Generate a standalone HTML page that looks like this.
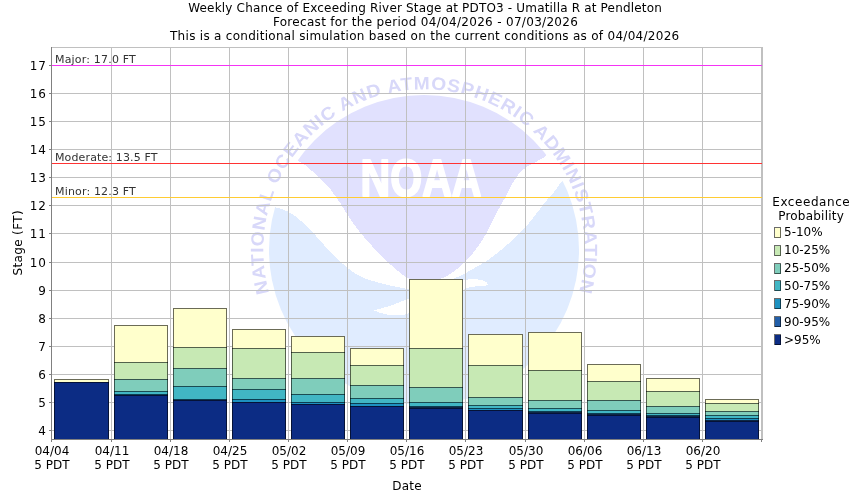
<!DOCTYPE html>
<html><head><meta charset="utf-8"><title>Weekly Chance of Exceeding River Stage</title>
<style>
html,body{margin:0;padding:0;background:#fff;}
body{width:850px;height:500px;overflow:hidden;}
svg{display:block;}
text{font-family:"DejaVu Sans","Liberation Sans",sans-serif;font-size:12px;fill:#000;}
.t11{font-size:11px;fill:#333;}
.ring{font-family:"Liberation Sans",sans-serif;font-weight:bold;font-size:18px;fill:#d8d8f9;}
.noaa{font-family:"Liberation Sans",sans-serif;font-weight:bold;font-size:51.5px;fill:#fff;stroke:#fff;stroke-width:2px;stroke-linejoin:round;}
</style></head><body>
<svg width="850" height="500" viewBox="0 0 850 500">
<rect width="850" height="500" fill="#fff"/>
<g>
<defs><clipPath id="lc"><circle cx="424" cy="250" r="155"/></clipPath>
<path id="ringp" d="M 292.4 342.2 A 160.7 160.7 0 1 1 555.6 342.2"/></defs>
<path shape-rendering="crispEdges" fill="#e1e1fe" clip-path="url(#lc)" d="M 297.8 160.6 L 270 120 L 300 60 L 560 60 L 590 120 L 544.8 156.8 C 543.6 157.5 540.8 159.2 537.6 161.0 C 534.4 162.8 529.0 165.1 525.6 167.6 C 522.2 170.1 519.8 172.6 517.2 176.0 C 514.6 179.4 512.1 184.2 510.0 188.0 C 507.9 191.8 506.7 194.5 504.3 199.0 C 501.9 203.5 498.6 208.9 495.5 214.8 C 492.4 220.7 489.1 228.6 485.6 234.6 C 482.2 240.6 478.1 246.5 474.8 250.8 C 471.5 255.2 469.1 257.6 466.0 260.7 C 462.9 263.8 459.6 267.0 456.5 269.5 C 453.4 272.0 450.3 274.1 447.7 275.6 C 445.1 277.1 443.2 277.8 440.6 278.7 C 438.0 279.6 435.1 280.5 432.0 281.0 C 428.9 281.5 425.2 281.7 422.0 281.5 C 418.8 281.3 415.6 280.7 413.0 280.0 C 410.4 279.3 409.1 278.9 406.5 277.3 C 403.9 275.7 400.6 273.1 397.2 270.4 C 393.8 267.6 389.6 263.7 386.4 260.8 C 383.2 257.9 380.8 255.7 378.0 252.8 C 375.2 249.9 372.6 246.6 369.6 243.2 C 366.6 239.8 363.6 237.0 360.0 232.4 C 356.4 227.8 351.1 220.2 348.0 215.6 C 344.9 211.0 343.3 207.6 341.6 205.0 C 339.9 202.4 340.0 203.0 338.0 200.2 C 336.0 197.4 332.8 192.0 329.6 188.2 C 326.4 184.4 322.8 181.2 318.8 177.4 C 314.8 173.6 309.1 168.2 305.6 165.4 C 302.1 162.6 299.1 161.4 297.8 160.6 Z"/>
<path shape-rendering="crispEdges" fill="#e0ecff" clip-path="url(#lc)" d="M 274.6 207 C 276.9 207.8 283.9 209.4 288.4 211.8 C 292.9 214.2 297.4 217.8 301.6 221.4 C 305.8 225.0 309.8 229.4 313.6 233.4 C 317.4 237.4 321.5 242.2 324.4 245.4 C 327.3 248.6 328.1 249.8 331.0 252.8 C 333.9 255.8 338.2 259.9 342.0 263.2 C 345.8 266.5 350.0 270.2 354.0 272.8 C 358.0 275.4 362.0 277.2 366.0 278.8 C 370.0 280.4 374.0 281.3 378.0 282.4 C 382.0 283.5 385.6 284.4 390.0 285.4 C 394.4 286.4 399.4 287.7 404.4 288.4 C 409.4 289.1 414.1 289.9 420.0 289.5 C 425.9 289.1 434.2 287.9 440.0 286.0 C 445.8 284.1 451.3 279.8 455.0 278.0 C 458.7 276.2 459.2 276.5 462.2 275.0 C 465.2 273.5 469.1 271.0 473.0 268.8 C 476.9 266.6 481.1 264.6 485.6 261.6 C 490.1 258.6 495.2 254.7 500.0 250.8 C 504.8 246.9 509.9 242.4 514.4 238.2 C 518.9 234.0 522.8 230.4 527.0 225.6 C 531.2 220.8 535.9 214.2 539.6 209.4 C 543.4 204.6 547.0 200.0 549.5 197.0 C 552.0 194.0 552.4 194.2 554.4 191.6 C 556.4 189.0 560.4 183.1 561.6 181.4 L 600 170 L 600 420 L 250 420 L 250 200 Z"/>
<path shape-rendering="crispEdges" fill="#fff" d="M 374 310.5 C 376.7 309.7 384.6 307.6 390.0 305.8 C 395.4 304.0 398.6 302.4 406.1 299.7 C 413.6 297.0 425.5 292.7 435.0 289.5 C 444.5 286.3 455.2 281.9 463.0 280.3 C 470.8 278.7 477.7 279.2 482.0 280.0 C 486.3 280.8 487.8 284.4 489.0 285.3 C 487.2 285.5 481.8 285.8 478.0 286.3 C 474.2 286.8 472.3 285.9 466.0 288.5 C 459.7 291.1 449.5 297.9 440.0 302.0 C 430.5 306.1 415.4 310.9 409.0 313.0 C 402.6 315.1 405.5 314.6 401.8 314.9 C 398.1 315.1 391.3 315.2 386.7 314.5 C 382.1 313.8 376.1 311.2 374.0 310.5 Z"/>
<text class="ring" text-anchor="middle" letter-spacing="0.78" textLength="591.4" lengthAdjust="spacingAndGlyphs"><textPath href="#ringp" startOffset="50%">NATIONAL OCEANIC AND ATMOSPHERIC ADMINISTRATION</textPath></text>
<text class="noaa" x="360.5" y="196" textLength="121" lengthAdjust="spacingAndGlyphs">NOAA</text>
</g>
<g shape-rendering="crispEdges" fill="#c0c0c0">
<rect x="111" y="47" width="1" height="392"/><rect x="170" y="47" width="1" height="392"/><rect x="229" y="47" width="1" height="392"/><rect x="288" y="47" width="1" height="392"/><rect x="347" y="47" width="1" height="392"/><rect x="406" y="47" width="1" height="392"/><rect x="465" y="47" width="1" height="392"/><rect x="525" y="47" width="1" height="392"/><rect x="584" y="47" width="1" height="392"/><rect x="643" y="47" width="1" height="392"/><rect x="702" y="47" width="1" height="392"/><rect x="761" y="47" width="1" height="392"/><rect x="52" y="430" width="710" height="1"/><rect x="52" y="402" width="710" height="1"/><rect x="52" y="374" width="710" height="1"/><rect x="52" y="346" width="710" height="1"/><rect x="52" y="318" width="710" height="1"/><rect x="52" y="290" width="710" height="1"/><rect x="52" y="262" width="710" height="1"/><rect x="52" y="233" width="710" height="1"/><rect x="52" y="205" width="710" height="1"/><rect x="52" y="177" width="710" height="1"/><rect x="52" y="149" width="710" height="1"/><rect x="52" y="121" width="710" height="1"/><rect x="52" y="93" width="710" height="1"/><rect x="52" y="65" width="710" height="1"/>
<rect x="51" y="47" width="712" height="1"/><rect x="762" y="47" width="1" height="393"/>
</g>
<g shape-rendering="crispEdges"><rect x="52" y="65" width="710" height="1" fill="#f533f5"/><rect x="52" y="163" width="710" height="1" fill="#ff3333"/><rect x="52" y="197" width="710" height="1" fill="#ffcc33"/></g>
<g shape-rendering="crispEdges">
<rect x="54" y="379" width="55" height="3" fill="#ffffcc"/><rect x="54" y="382" width="55" height="57" fill="#0c2c84"/><rect x="54" y="379" width="55" height="1" fill="#000" fill-opacity="0.58"/><rect x="54" y="382" width="55" height="1" fill="#000" fill-opacity="0.58"/><rect x="54" y="380" width="1" height="59" fill="#000" fill-opacity="0.58"/><rect x="108" y="380" width="1" height="59" fill="#000" fill-opacity="0.58"/>
<rect x="114" y="325" width="54" height="37" fill="#ffffcc"/><rect x="114" y="362" width="54" height="17" fill="#c7e9b4"/><rect x="114" y="379" width="54" height="12" fill="#7fcdbb"/><rect x="114" y="391" width="54" height="3" fill="#41b6c4"/><rect x="114" y="394" width="54" height="1" fill="#1d91c0"/><rect x="114" y="395" width="54" height="44" fill="#0c2c84"/><rect x="114" y="325" width="54" height="1" fill="#000" fill-opacity="0.58"/><rect x="114" y="362" width="54" height="1" fill="#000" fill-opacity="0.58"/><rect x="114" y="379" width="54" height="1" fill="#000" fill-opacity="0.58"/><rect x="114" y="391" width="54" height="1" fill="#000" fill-opacity="0.58"/><rect x="114" y="394" width="54" height="1" fill="#000" fill-opacity="0.58"/><rect x="114" y="395" width="54" height="1" fill="#000" fill-opacity="0.58"/><rect x="114" y="326" width="1" height="113" fill="#000" fill-opacity="0.58"/><rect x="167" y="326" width="1" height="113" fill="#000" fill-opacity="0.58"/>
<rect x="173" y="308" width="54" height="39" fill="#ffffcc"/><rect x="173" y="347" width="54" height="21" fill="#c7e9b4"/><rect x="173" y="368" width="54" height="18" fill="#7fcdbb"/><rect x="173" y="386" width="54" height="13" fill="#41b6c4"/><rect x="173" y="399" width="54" height="1" fill="#1d91c0"/><rect x="173" y="400" width="54" height="39" fill="#0c2c84"/><rect x="173" y="308" width="54" height="1" fill="#000" fill-opacity="0.58"/><rect x="173" y="347" width="54" height="1" fill="#000" fill-opacity="0.58"/><rect x="173" y="368" width="54" height="1" fill="#000" fill-opacity="0.58"/><rect x="173" y="386" width="54" height="1" fill="#000" fill-opacity="0.58"/><rect x="173" y="399" width="54" height="1" fill="#000" fill-opacity="0.58"/><rect x="173" y="400" width="54" height="1" fill="#000" fill-opacity="0.58"/><rect x="173" y="309" width="1" height="130" fill="#000" fill-opacity="0.58"/><rect x="226" y="309" width="1" height="130" fill="#000" fill-opacity="0.58"/>
<rect x="232" y="329" width="54" height="19" fill="#ffffcc"/><rect x="232" y="348" width="54" height="30" fill="#c7e9b4"/><rect x="232" y="378" width="54" height="11" fill="#7fcdbb"/><rect x="232" y="389" width="54" height="10" fill="#41b6c4"/><rect x="232" y="399" width="54" height="3" fill="#1d91c0"/><rect x="232" y="402" width="54" height="37" fill="#0c2c84"/><rect x="232" y="329" width="54" height="1" fill="#000" fill-opacity="0.58"/><rect x="232" y="348" width="54" height="1" fill="#000" fill-opacity="0.58"/><rect x="232" y="378" width="54" height="1" fill="#000" fill-opacity="0.58"/><rect x="232" y="389" width="54" height="1" fill="#000" fill-opacity="0.58"/><rect x="232" y="399" width="54" height="1" fill="#000" fill-opacity="0.58"/><rect x="232" y="402" width="54" height="1" fill="#000" fill-opacity="0.58"/><rect x="232" y="330" width="1" height="109" fill="#000" fill-opacity="0.58"/><rect x="285" y="330" width="1" height="109" fill="#000" fill-opacity="0.58"/>
<rect x="291" y="336" width="54" height="16" fill="#ffffcc"/><rect x="291" y="352" width="54" height="26" fill="#c7e9b4"/><rect x="291" y="378" width="54" height="16" fill="#7fcdbb"/><rect x="291" y="394" width="54" height="8" fill="#41b6c4"/><rect x="291" y="402" width="54" height="2" fill="#1d91c0"/><rect x="291" y="404" width="54" height="35" fill="#0c2c84"/><rect x="291" y="336" width="54" height="1" fill="#000" fill-opacity="0.58"/><rect x="291" y="352" width="54" height="1" fill="#000" fill-opacity="0.58"/><rect x="291" y="378" width="54" height="1" fill="#000" fill-opacity="0.58"/><rect x="291" y="394" width="54" height="1" fill="#000" fill-opacity="0.58"/><rect x="291" y="402" width="54" height="1" fill="#000" fill-opacity="0.58"/><rect x="291" y="404" width="54" height="1" fill="#000" fill-opacity="0.58"/><rect x="291" y="337" width="1" height="102" fill="#000" fill-opacity="0.58"/><rect x="344" y="337" width="1" height="102" fill="#000" fill-opacity="0.58"/>
<rect x="350" y="348" width="54" height="17" fill="#ffffcc"/><rect x="350" y="365" width="54" height="20" fill="#c7e9b4"/><rect x="350" y="385" width="54" height="13" fill="#7fcdbb"/><rect x="350" y="398" width="54" height="5" fill="#41b6c4"/><rect x="350" y="403" width="54" height="3" fill="#1d91c0"/><rect x="350" y="406" width="54" height="33" fill="#0c2c84"/><rect x="350" y="348" width="54" height="1" fill="#000" fill-opacity="0.58"/><rect x="350" y="365" width="54" height="1" fill="#000" fill-opacity="0.58"/><rect x="350" y="385" width="54" height="1" fill="#000" fill-opacity="0.58"/><rect x="350" y="398" width="54" height="1" fill="#000" fill-opacity="0.58"/><rect x="350" y="403" width="54" height="1" fill="#000" fill-opacity="0.58"/><rect x="350" y="406" width="54" height="1" fill="#000" fill-opacity="0.58"/><rect x="350" y="349" width="1" height="90" fill="#000" fill-opacity="0.58"/><rect x="403" y="349" width="1" height="90" fill="#000" fill-opacity="0.58"/>
<rect x="409" y="279" width="54" height="69" fill="#ffffcc"/><rect x="409" y="348" width="54" height="39" fill="#c7e9b4"/><rect x="409" y="387" width="54" height="15" fill="#7fcdbb"/><rect x="409" y="402" width="54" height="4" fill="#41b6c4"/><rect x="409" y="406" width="54" height="1" fill="#1d91c0"/><rect x="409" y="407" width="54" height="1" fill="#225ea8"/><rect x="409" y="408" width="54" height="31" fill="#0c2c84"/><rect x="409" y="279" width="54" height="1" fill="#000" fill-opacity="0.58"/><rect x="409" y="348" width="54" height="1" fill="#000" fill-opacity="0.58"/><rect x="409" y="387" width="54" height="1" fill="#000" fill-opacity="0.58"/><rect x="409" y="402" width="54" height="1" fill="#000" fill-opacity="0.58"/><rect x="409" y="406" width="54" height="1" fill="#000" fill-opacity="0.58"/><rect x="409" y="407" width="54" height="1" fill="#000" fill-opacity="0.58"/><rect x="409" y="408" width="54" height="1" fill="#000" fill-opacity="0.58"/><rect x="409" y="280" width="1" height="159" fill="#000" fill-opacity="0.58"/><rect x="462" y="280" width="1" height="159" fill="#000" fill-opacity="0.58"/>
<rect x="468" y="334" width="55" height="31" fill="#ffffcc"/><rect x="468" y="365" width="55" height="32" fill="#c7e9b4"/><rect x="468" y="397" width="55" height="8" fill="#7fcdbb"/><rect x="468" y="405" width="55" height="3" fill="#41b6c4"/><rect x="468" y="408" width="55" height="2" fill="#1d91c0"/><rect x="468" y="410" width="55" height="29" fill="#0c2c84"/><rect x="468" y="334" width="55" height="1" fill="#000" fill-opacity="0.58"/><rect x="468" y="365" width="55" height="1" fill="#000" fill-opacity="0.58"/><rect x="468" y="397" width="55" height="1" fill="#000" fill-opacity="0.58"/><rect x="468" y="405" width="55" height="1" fill="#000" fill-opacity="0.58"/><rect x="468" y="408" width="55" height="1" fill="#000" fill-opacity="0.58"/><rect x="468" y="410" width="55" height="1" fill="#000" fill-opacity="0.58"/><rect x="468" y="335" width="1" height="104" fill="#000" fill-opacity="0.58"/><rect x="522" y="335" width="1" height="104" fill="#000" fill-opacity="0.58"/>
<rect x="528" y="332" width="54" height="38" fill="#ffffcc"/><rect x="528" y="370" width="54" height="30" fill="#c7e9b4"/><rect x="528" y="400" width="54" height="8" fill="#7fcdbb"/><rect x="528" y="408" width="54" height="3" fill="#41b6c4"/><rect x="528" y="411" width="54" height="1" fill="#1d91c0"/><rect x="528" y="412" width="54" height="1" fill="#225ea8"/><rect x="528" y="413" width="54" height="26" fill="#0c2c84"/><rect x="528" y="332" width="54" height="1" fill="#000" fill-opacity="0.58"/><rect x="528" y="370" width="54" height="1" fill="#000" fill-opacity="0.58"/><rect x="528" y="400" width="54" height="1" fill="#000" fill-opacity="0.58"/><rect x="528" y="408" width="54" height="1" fill="#000" fill-opacity="0.58"/><rect x="528" y="411" width="54" height="1" fill="#000" fill-opacity="0.58"/><rect x="528" y="412" width="54" height="1" fill="#000" fill-opacity="0.58"/><rect x="528" y="413" width="54" height="1" fill="#000" fill-opacity="0.58"/><rect x="528" y="333" width="1" height="106" fill="#000" fill-opacity="0.58"/><rect x="581" y="333" width="1" height="106" fill="#000" fill-opacity="0.58"/>
<rect x="587" y="364" width="54" height="17" fill="#ffffcc"/><rect x="587" y="381" width="54" height="19" fill="#c7e9b4"/><rect x="587" y="400" width="54" height="10" fill="#7fcdbb"/><rect x="587" y="410" width="54" height="3" fill="#41b6c4"/><rect x="587" y="413" width="54" height="1" fill="#1d91c0"/><rect x="587" y="414" width="54" height="1" fill="#225ea8"/><rect x="587" y="415" width="54" height="24" fill="#0c2c84"/><rect x="587" y="364" width="54" height="1" fill="#000" fill-opacity="0.58"/><rect x="587" y="381" width="54" height="1" fill="#000" fill-opacity="0.58"/><rect x="587" y="400" width="54" height="1" fill="#000" fill-opacity="0.58"/><rect x="587" y="410" width="54" height="1" fill="#000" fill-opacity="0.58"/><rect x="587" y="413" width="54" height="1" fill="#000" fill-opacity="0.58"/><rect x="587" y="414" width="54" height="1" fill="#000" fill-opacity="0.58"/><rect x="587" y="415" width="54" height="1" fill="#000" fill-opacity="0.58"/><rect x="587" y="365" width="1" height="74" fill="#000" fill-opacity="0.58"/><rect x="640" y="365" width="1" height="74" fill="#000" fill-opacity="0.58"/>
<rect x="646" y="378" width="54" height="13" fill="#ffffcc"/><rect x="646" y="391" width="54" height="15" fill="#c7e9b4"/><rect x="646" y="406" width="54" height="7" fill="#7fcdbb"/><rect x="646" y="413" width="54" height="2" fill="#41b6c4"/><rect x="646" y="415" width="54" height="1" fill="#1d91c0"/><rect x="646" y="416" width="54" height="1" fill="#225ea8"/><rect x="646" y="417" width="54" height="22" fill="#0c2c84"/><rect x="646" y="378" width="54" height="1" fill="#000" fill-opacity="0.58"/><rect x="646" y="391" width="54" height="1" fill="#000" fill-opacity="0.58"/><rect x="646" y="406" width="54" height="1" fill="#000" fill-opacity="0.58"/><rect x="646" y="413" width="54" height="1" fill="#000" fill-opacity="0.58"/><rect x="646" y="415" width="54" height="1" fill="#000" fill-opacity="0.58"/><rect x="646" y="416" width="54" height="1" fill="#000" fill-opacity="0.58"/><rect x="646" y="417" width="54" height="1" fill="#000" fill-opacity="0.58"/><rect x="646" y="379" width="1" height="60" fill="#000" fill-opacity="0.58"/><rect x="699" y="379" width="1" height="60" fill="#000" fill-opacity="0.58"/>
<rect x="705" y="399" width="54" height="4" fill="#ffffcc"/><rect x="705" y="403" width="54" height="8" fill="#c7e9b4"/><rect x="705" y="411" width="54" height="4" fill="#7fcdbb"/><rect x="705" y="415" width="54" height="3" fill="#41b6c4"/><rect x="705" y="418" width="54" height="2" fill="#1d91c0"/><rect x="705" y="420" width="54" height="1" fill="#225ea8"/><rect x="705" y="421" width="54" height="18" fill="#0c2c84"/><rect x="705" y="399" width="54" height="1" fill="#000" fill-opacity="0.58"/><rect x="705" y="403" width="54" height="1" fill="#000" fill-opacity="0.58"/><rect x="705" y="411" width="54" height="1" fill="#000" fill-opacity="0.58"/><rect x="705" y="415" width="54" height="1" fill="#000" fill-opacity="0.58"/><rect x="705" y="418" width="54" height="1" fill="#000" fill-opacity="0.58"/><rect x="705" y="420" width="54" height="1" fill="#000" fill-opacity="0.58"/><rect x="705" y="421" width="54" height="1" fill="#000" fill-opacity="0.58"/><rect x="705" y="400" width="1" height="39" fill="#000" fill-opacity="0.58"/><rect x="758" y="400" width="1" height="39" fill="#000" fill-opacity="0.58"/>
</g>
<g shape-rendering="crispEdges" fill="#808080">
<rect x="51" y="47" width="1" height="393"/><rect x="51" y="439" width="712" height="1"/>
<rect x="51" y="440" width="1" height="2"/><rect x="111" y="440" width="1" height="2"/><rect x="170" y="440" width="1" height="2"/><rect x="229" y="440" width="1" height="2"/><rect x="288" y="440" width="1" height="2"/><rect x="347" y="440" width="1" height="2"/><rect x="406" y="440" width="1" height="2"/><rect x="465" y="440" width="1" height="2"/><rect x="525" y="440" width="1" height="2"/><rect x="584" y="440" width="1" height="2"/><rect x="643" y="440" width="1" height="2"/><rect x="702" y="440" width="1" height="2"/><rect x="761" y="440" width="1" height="2"/><rect x="49" y="430" width="2" height="1"/><rect x="49" y="402" width="2" height="1"/><rect x="49" y="374" width="2" height="1"/><rect x="49" y="346" width="2" height="1"/><rect x="49" y="318" width="2" height="1"/><rect x="49" y="290" width="2" height="1"/><rect x="49" y="262" width="2" height="1"/><rect x="49" y="233" width="2" height="1"/><rect x="49" y="205" width="2" height="1"/><rect x="49" y="177" width="2" height="1"/><rect x="49" y="149" width="2" height="1"/><rect x="49" y="121" width="2" height="1"/><rect x="49" y="93" width="2" height="1"/><rect x="49" y="65" width="2" height="1"/>
</g>
<g text-anchor="middle">
<text x="425" y="12" textLength="473.6">Weekly Chance of Exceeding River Stage at PDTO3 - Umatilla R at Pendleton</text>
<text x="425.4" y="26" textLength="305">Forecast for the period 04/04/2026 - 07/03/2026</text>
<text x="424.6" y="40" textLength="509.2">This is a conditional simulation based on the current conditions as of 04/04/2026</text>
<text x="52" y="455">04/04</text><text x="52" y="469">5 PDT</text>
<text x="112" y="455">04/11</text><text x="112" y="469">5 PDT</text>
<text x="171" y="455">04/18</text><text x="171" y="469">5 PDT</text>
<text x="230" y="455">04/25</text><text x="230" y="469">5 PDT</text>
<text x="289" y="455">05/02</text><text x="289" y="469">5 PDT</text>
<text x="348" y="455">05/09</text><text x="348" y="469">5 PDT</text>
<text x="407" y="455">05/16</text><text x="407" y="469">5 PDT</text>
<text x="466" y="455">05/23</text><text x="466" y="469">5 PDT</text>
<text x="526" y="455">05/30</text><text x="526" y="469">5 PDT</text>
<text x="585" y="455">06/06</text><text x="585" y="469">5 PDT</text>
<text x="644" y="455">06/13</text><text x="644" y="469">5 PDT</text>
<text x="703" y="455">06/20</text><text x="703" y="469">5 PDT</text>
<text x="407" y="490" textLength="29.4">Date</text>
<text transform="translate(22,243) rotate(-90)" textLength="65.2">Stage (FT)</text>
<text x="811" y="206" textLength="77.5">Exceedance</text>
<text x="811" y="220" textLength="65.7">Probability</text>
</g>
<g text-anchor="end">
<text x="46" y="435">4</text><text x="46" y="407">5</text><text x="46" y="379">6</text><text x="46" y="351">7</text><text x="46" y="323">8</text><text x="46" y="295">9</text><text x="46" y="267" textLength="16.3">10</text><text x="46" y="238" textLength="16.3">11</text><text x="46" y="210" textLength="16.3">12</text><text x="46" y="182" textLength="16.3">13</text><text x="46" y="154" textLength="16.3">14</text><text x="46" y="126" textLength="16.3">15</text><text x="46" y="98" textLength="16.3">16</text><text x="46" y="70" textLength="16.3">17</text>
</g>
<text class="t11" x="55" y="63" textLength="80.8">Major: 17.0 FT</text>
<text class="t11" x="55" y="161" textLength="102.4">Moderate: 13.5 FT</text>
<text class="t11" x="55" y="195" textLength="80.8">Minor: 12.3 FT</text>
<rect x="774.5" y="227.5" width="6" height="10" fill="#ffffcc" stroke="#000" stroke-opacity="0.58" stroke-width="1" shape-rendering="crispEdges"/><text x="784" y="236">5-10%</text>
<rect x="774.5" y="245.5" width="6" height="10" fill="#c7e9b4" stroke="#000" stroke-opacity="0.58" stroke-width="1" shape-rendering="crispEdges"/><text x="784" y="254">10-25%</text>
<rect x="774.5" y="263.5" width="6" height="10" fill="#7fcdbb" stroke="#000" stroke-opacity="0.58" stroke-width="1" shape-rendering="crispEdges"/><text x="784" y="272">25-50%</text>
<rect x="774.5" y="280.5" width="6" height="10" fill="#41b6c4" stroke="#000" stroke-opacity="0.58" stroke-width="1" shape-rendering="crispEdges"/><text x="784" y="290">50-75%</text>
<rect x="774.5" y="298.5" width="6" height="10" fill="#1d91c0" stroke="#000" stroke-opacity="0.58" stroke-width="1" shape-rendering="crispEdges"/><text x="784" y="308">75-90%</text>
<rect x="774.5" y="316.5" width="6" height="10" fill="#225ea8" stroke="#000" stroke-opacity="0.58" stroke-width="1" shape-rendering="crispEdges"/><text x="784" y="326">90-95%</text>
<rect x="774.5" y="334.5" width="6" height="10" fill="#0c2c84" stroke="#000" stroke-opacity="0.58" stroke-width="1" shape-rendering="crispEdges"/><text x="784" y="344">&gt;95%</text>
</svg>
</body></html>
